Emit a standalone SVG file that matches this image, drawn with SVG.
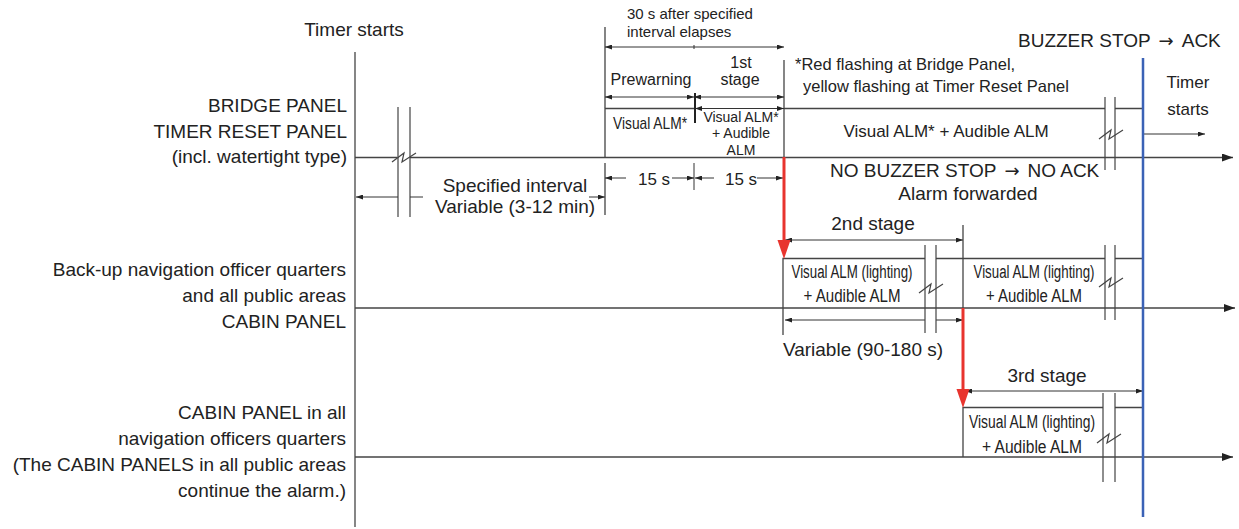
<svg xmlns="http://www.w3.org/2000/svg" width="1239" height="529" viewBox="0 0 1239 529">
<style>
text{font-family:"Liberation Sans",Arial,sans-serif;fill:#222}
.t19{font-size:19px}
.t18{font-size:18px}
.t17{font-size:17px}
.t16{font-size:16px}
.t15{font-size:15px}
.t14{font-size:14px}
.m{text-anchor:middle}
.e{text-anchor:end}
.ar{font-family:"DejaVu Sans",sans-serif;font-size:18px}
.l{stroke:#444;stroke-width:1.3;fill:none}
.d{stroke:#333;stroke-width:1;fill:none}
.br{stroke:#444;stroke-width:1.2;fill:none}
.red{stroke:#e8342e;stroke-width:3;fill:none}
.rh{fill:#e8342e}
</style>
<defs>
<marker id="a" viewBox="0 0 10 10" refX="10" refY="5" markerWidth="7" markerHeight="5" markerUnits="userSpaceOnUse" orient="auto-start-reverse" preserveAspectRatio="none"><path d="M0,0 L10,5 L0,10z" fill="#222"/></marker>
<marker id="b" viewBox="0 0 10 10" refX="10" refY="5" markerWidth="11" markerHeight="8" markerUnits="userSpaceOnUse" orient="auto" preserveAspectRatio="none"><path d="M0,0 L10,5 L0,10z" fill="#222"/></marker>
</defs>

<g id="labels">
<text class="t19 m" x="354" y="36">Timer starts</text>
<text class="t19 e" x="347" y="112">BRIDGE PANEL</text>
<text class="t19 e" x="347" y="138">TIMER RESET PANEL</text>
<text class="t19 e" x="347" y="163">(incl. watertight type)</text>
<text class="t19 e" x="346" y="276">Back-up navigation officer quarters</text>
<text class="t19 e" x="346" y="302">and all public areas</text>
<text class="t19 e" x="346" y="328">CABIN PANEL</text>
<text class="t19 e" x="346" y="419">CABIN PANEL in all</text>
<text class="t19 e" x="346" y="445">navigation officers quarters</text>
<text class="t19 e" x="346" y="471">(The CABIN PANELS in all public areas</text>
<text class="t19 e" x="346" y="497">continue the alarm.)</text>
</g>

<g id="row1">
<path class="l" d="M605,157.5 V108.5 H694 M784,108.5 H1105 M1115,108.5 H1143"/>
<text class="t17" x="613" y="129" textLength="74" lengthAdjust="spacingAndGlyphs">Visual ALM*</text>
<text class="t14 m" x="741" y="122">Visual ALM*</text>
<text class="t14 m" x="741" y="138">+ Audible</text>
<text class="t14 m" x="741" y="155">ALM</text>
<text class="t17 m" x="946" y="137">Visual ALM* + Audible ALM</text>
<text class="t15" x="627" y="19">30 s after specified</text>
<text class="t15" x="627" y="37">interval elapses</text>
<text class="t16 m" x="651" y="85">Prewarning</text>
<text class="t16 m" x="741" y="68">1st</text>
<text class="t16 m" x="740" y="85">stage</text>
<text class="t17 m" x="654" y="185">15 s</text>
<text class="t17 m" x="741" y="185">15 s</text>
<text class="t19 m" x="515" y="192">Specified interval</text>
<text class="t19 m" x="515" y="213">Variable (3-12 min)</text>
<text class="t16" x="795" y="70" style="font-size:16.5px">*Red flashing at Bridge Panel,</text>
<text class="t16" x="803" y="92" style="font-size:16.5px">yellow flashing at Timer Reset Panel</text>
<text class="t19" x="1018" y="47">BUZZER STOP <tspan class="ar" dx="3">→</tspan><tspan dx="8">ACK</tspan></text>
<text class="t17 m" x="1188" y="88">Timer</text>
<text class="t17 m" x="1188" y="115">starts</text>
<text class="t19" x="830" y="177">NO BUZZER STOP <tspan class="ar" dx="3">→</tspan><tspan dx="8">NO ACK</tspan></text>
<text class="t19 m" x="968" y="200">Alarm forwarded</text>
</g>

<g id="row2">
<path class="l" d="M783,335 V258.5 H925 M936,258.5 H1105 M1115,258.5 H1143"/>
<text class="t18 m" x="852" y="278" textLength="121" lengthAdjust="spacingAndGlyphs">Visual ALM (lighting)</text>
<text class="t18 m" x="852" y="302" textLength="97" lengthAdjust="spacingAndGlyphs">+ Audible ALM</text>
<text class="t18 m" x="1034" y="278" textLength="121" lengthAdjust="spacingAndGlyphs">Visual ALM (lighting)</text>
<text class="t18 m" x="1034" y="302" textLength="96" lengthAdjust="spacingAndGlyphs">+ Audible ALM</text>
<text class="t19 m" x="873" y="230">2nd stage</text>
<text class="t19 m" x="863" y="356">Variable (90-180 s)</text>
</g>

<g id="row3">
<path class="l" d="M963,457 V407.5 H1103 M1115,407.5 H1143"/>
<text class="t18 m" x="1032" y="428" textLength="126" lengthAdjust="spacingAndGlyphs">Visual ALM (lighting)</text>
<text class="t18 m" x="1032" y="453" textLength="100" lengthAdjust="spacingAndGlyphs">+ Audible ALM</text>
<text class="t19 m" x="1047" y="382">3rd stage</text>
</g>

<g id="connectors">
<path class="l" d="M355,52 V527"/>
<path class="l" d="M355,157.5 H397 M410,157.5 H1233" marker-end="url(#b)"/>
<path class="l" d="M355,308 H1235" marker-end="url(#b)"/>
<path class="l" d="M355,457 H1233" marker-end="url(#b)"/>
<path class="br" d="M398,107 V217 M410,107 V217"/>
<polyline class="br" points="392,162 404,153 402,162 416,153"/>
<path class="d" d="M398,197 H356" marker-end="url(#a)"/>
<path class="d" d="M410,197 H423"/>
<path class="d" d="M589,197 H605" marker-end="url(#a)"/>
<path class="l" d="M605,27 V108 M605,163 V215"/>
<path class="d" d="M605,47 H784" marker-start="url(#a)" marker-end="url(#a)"/>
<path class="d" d="M694,45 V49"/>
<path class="l" d="M784,60 V157"/>
<path class="d" d="M605,97 H694" marker-start="url(#a)" marker-end="url(#a)"/>
<path class="d" d="M694,97 H784" marker-start="url(#a)" marker-end="url(#a)"/>
<path class="d" d="M695,108.5 H784" marker-start="url(#a)" marker-end="url(#a)"/>
<path stroke="#222" stroke-width="2" d="M695,93 V123"/>
<path class="d" d="M694,163 V190"/>
<path class="d" d="M626,178 H605" marker-end="url(#a)"/>
<path class="d" d="M672,178 H694" marker-end="url(#a)"/>
<path class="d" d="M714,178 H695" marker-end="url(#a)"/>
<path class="d" d="M757,178 H783" marker-end="url(#a)"/>
<path class="br" d="M1105,97 V170 M1115,97 V170"/>
<polyline class="br" points="1099,139 1111,130 1109,139 1123,130"/>
<path class="d" d="M1144,134 H1205" marker-end="url(#a)"/>
<path class="d" d="M785,240 H963" marker-start="url(#a)" marker-end="url(#a)"/>
<path class="l" d="M963,225 V308"/>
<path class="d" d="M925,320 H785" marker-end="url(#a)"/>
<path class="d" d="M936,320 H963" marker-end="url(#a)"/>
<path class="br" d="M925,245 V333 M936,245 V333"/>
<polyline class="br" points="919,293 931,284 929,293 943,284"/>
<path class="br" d="M1105,245 V320 M1115,245 V320"/>
<polyline class="br" points="1099,287 1111,278 1109,287 1123,278"/>
<path class="d" d="M965,391 H1143" marker-start="url(#a)" marker-end="url(#a)"/>
<path class="br" d="M1103,393 V482 M1115,393 V482"/>
<polyline class="br" points="1097,443 1109,434 1107,443 1121,434"/>
<path class="red" d="M784,157 V242"/>
<polygon class="rh" points="777.5,240 790.5,240 784,259"/>
<path class="red" d="M963,308 V391"/>
<polygon class="rh" points="956.5,389 969.5,389 963,408"/>
<path stroke="#3b62b6" stroke-width="2.5" d="M1143,58 V517"/>
</g>
</svg>
